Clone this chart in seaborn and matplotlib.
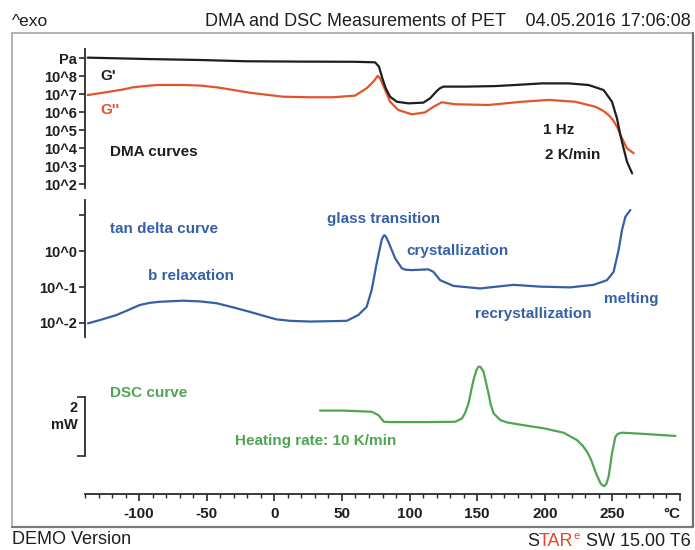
import numpy as np
import pandas as pd
import matplotlib
matplotlib.use("Agg")
import matplotlib.pyplot as plt
from matplotlib.lines import Line2D
from matplotlib.patches import Rectangle
import seaborn as sns

# ---------------------------------------------------------------- data
# Storage modulus G' (log10 Pa) versus temperature (°C)
g_store_T = [-138.0, -92.1, -55.1, -21.8, 18.9, 59.6, 74.5, 77.4, 79.9, 82.4,
             85.6, 90.6, 99.1, 110.2, 115.2, 120.2, 122.5, 125.1, 141.1, 163.3,
             178.1, 197.9, 217.6, 232.4, 243.5, 249.7, 253.4, 255.9, 258.3, 260.8,
             264.6]
g_store_exp = [9.02, 8.94, 8.89, 8.82, 8.80, 8.79, 8.76, 8.52, 7.87, 7.32,
               6.85, 6.57, 6.48, 6.52, 6.76, 7.17, 7.32, 7.41, 7.41, 7.44,
               7.50, 7.59, 7.59, 7.50, 7.22, 6.57, 5.65, 4.72, 3.98, 3.24,
               2.59]

# Loss modulus G'' (log10 Pa)
g_loss_T = [-138.0, -121.7, -112.0, -104.7, -96.0, -86.9, -67.7, -55.0, -42.5, -30.0,
            -18.1, 6.4, 25.0, 43.4, 59.7, 68.3, 73.2, 76.5, 78.2, 81.4,
            85.6, 91.7, 101.7, 111.5, 117.7, 123.9, 133.7, 158.4, 183.1, 202.8,
            222.6, 237.4, 243.0, 247.2, 250.5, 253.4, 257.1, 260.8, 265.7]
g_loss_exp = [6.94, 7.13, 7.25, 7.37, 7.44, 7.50, 7.50, 7.47, 7.37, 7.22,
              7.07, 6.85, 6.82, 6.82, 6.91, 7.32, 7.68, 8.01, 7.87, 7.32,
              6.57, 6.11, 5.87, 5.98, 6.29, 6.54, 6.43, 6.39, 6.57, 6.67,
              6.57, 6.29, 6.08, 5.83, 5.55, 5.18, 4.54, 3.98, 3.71]

# Loss factor tan delta (log10)
tan_T = [-137.8, -129.1, -116.8, -108.0, -99.5, -92.0, -84.7, -67.5, -55.0, -42.7,
         -30.0, -18.1, -8.0, 1.7, 12.0, 26.4, 53.5, 62.1, 68.3, 72.0,
         75.7, 79.4, 80.5, 81.4, 82.5, 84.3, 89.3, 94.3, 97.0, 101.7,
         113.9, 117.7, 122.6, 132.5, 152.2, 176.9, 196.7, 218.9, 236.1, 246.0,
         250.9, 254.6, 257.1, 259.6, 263.3]
tan_exp = [-2.01, -1.92, -1.78, -1.64, -1.50, -1.44, -1.41, -1.38, -1.40, -1.45,
           -1.57, -1.69, -1.80, -1.90, -1.94, -1.96, -1.94, -1.78, -1.55, -1.08,
           -0.34, 0.31, 0.40, 0.44, 0.40, 0.26, -0.20, -0.48, -0.52, -0.53,
           -0.51, -0.58, -0.81, -0.97, -1.04, -0.94, -0.99, -1.01, -0.94, -0.81,
           -0.58, 0.03, 0.58, 0.95, 1.14]

# DSC heat flow (mW, exo up)
dsc_T = [33.8, 51.0, 72.0, 76.9, 81.1, 85.6, 112.8, 133.7, 138.7, 141.0,
         143.6, 145.5, 147.3, 149.5, 151.0, 152.5, 154.7, 156.5, 158.4, 160.0,
         162.1, 167.0, 172.0, 179.4, 199.1, 213.9, 223.8, 228.0, 231.2, 234.0,
         236.1, 238.5, 241.2, 242.8, 244.0, 245.5, 247.2, 248.5, 249.7, 252.2,
         254.0, 257.1, 273.1, 296.6]
dsc_mw = [1.54, 1.54, 1.50, 1.39, 1.16, 1.15, 1.15, 1.16, 1.27, 1.45,
          1.78, 2.20, 2.58, 2.92, 3.03, 3.02, 2.86, 2.50, 2.12, 1.75,
          1.45, 1.22, 1.14, 1.08, 0.94, 0.79, 0.54, 0.35, 0.15, -0.10,
          -0.36, -0.65, -0.92, -1.00, -1.02, -0.95, -0.70, -0.30, 0.09, 0.65,
          0.75, 0.79, 0.75, 0.68]

dma_ticks_exp = [2, 3, 4, 5, 6, 7, 8, 9]
dma_tick_labels = ["10^2", "10^3", "10^4", "10^5", "10^6", "10^7", "10^8", "Pa"]
tan_ticks_exp = [1, 0, -1, -2]
tan_tick_labels = ["", "10^0", "10^-1", "10^-2"]
temp_ticks = [-100, -50, 0, 50, 100, 150, 200, 250, 300]
temp_tick_labels = ["-100", "-50", "0", "50", "100", "150", "200", "250", "°C"]

# ---------------------------------------------------------------- style
sns.set_theme(style="white")
plt.rcParams["font.family"] = ["Liberation Sans", "DejaVu Sans"]

BLACK = "#1e1e1e"
ORANGE = "#e4542b"
BLUE = "#3560a8"
GREEN = "#4fa552"
AXIS = "#2a2a2a"

W, H = 695, 550
fig = plt.figure(figsize=(W / 100, H / 100), dpi=100)


def box(left, top, right, bottom):
    return [left / W, 1 - bottom / H, (right - left) / W, (bottom - top) / H]


def fx(px):
    return px / W


def fy(py):
    return 1 - py / H


TMIN, TMAX = -140, 300

ax_dma = fig.add_axes(box(85, 49, 680, 188))
ax_tan = fig.add_axes(box(85, 200, 680, 337))
ax_dsc = fig.add_axes(box(85, 345, 680, 494))

for ax in (ax_dma, ax_tan, ax_dsc):
    ax.set_facecolor("none")
    ax.set_xlim(TMIN, TMAX)
    for s in ("top", "right", "bottom"):
        ax.spines[s].set_visible(False)
    ax.spines["left"].set_color(AXIS)
    ax.spines["left"].set_linewidth(1.3)
    ax.tick_params(axis="y", direction="out", length=4, width=1.2, color=AXIS,
                   labelsize=10.5, pad=1.5, labelcolor=BLACK, left=True)
    ax.tick_params(axis="x", bottom=False, labelbottom=False)

line_kw = dict(linewidth=1.6, estimator=None, sort=False, legend=False)

# DMA moduli
dma_store = pd.DataFrame({"T": g_store_T, "G": np.power(10.0, g_store_exp)})
dma_loss = pd.DataFrame({"T": g_loss_T, "G": np.power(10.0, g_loss_exp)})
ax_dma.set_yscale("log")
sns.lineplot(data=dma_loss, x="T", y="G", ax=ax_dma, color=ORANGE, **line_kw)
sns.lineplot(data=dma_store, x="T", y="G", ax=ax_dma, color=BLACK, **line_kw)
ax_dma.set_ylim(10 ** 1.778, 10 ** 9.5)
ax_dma.set_yticks([10.0 ** e for e in dma_ticks_exp])
ax_dma.set_yticklabels(dma_tick_labels, fontweight="bold")
ax_dma.minorticks_off()

# tan delta
tan_df = pd.DataFrame({"T": tan_T, "tan": np.power(10.0, tan_exp)})
ax_tan.set_yscale("log")
sns.lineplot(data=tan_df, x="T", y="tan", ax=ax_tan, color=BLUE, **line_kw)
ax_tan.set_ylim(10 ** -2.389, 10 ** 1.417)
ax_tan.set_yticks([10.0 ** e for e in tan_ticks_exp])
ax_tan.set_yticklabels(tan_tick_labels, fontweight="bold")
ax_tan.minorticks_off()

# DSC heat flow with a 2 mW scale bracket and the temperature axis
dsc_df = pd.DataFrame({"T": dsc_T, "mW": dsc_mw})
sns.lineplot(data=dsc_df, x="T", y="mW", ax=ax_dsc, color=GREEN, **line_kw)
ax_dsc.set_ylim(-1.288, 3.763)
ax_dsc.spines["left"].set_bounds(0, 2)
ax_dsc.set_yticks([0, 2])
ax_dsc.set_yticklabels(["", ""])
ax_dsc.tick_params(axis="y", length=6)
ax_dsc.text(-0.013, 1.35, "2\nmW", transform=ax_dsc.get_yaxis_transform(),
            ha="right", va="center", multialignment="right", fontsize=10.5,
            fontweight="bold", color=BLACK, linespacing=1.3)

ax_dsc.spines["bottom"].set_visible(True)
ax_dsc.spines["bottom"].set_color(AXIS)
ax_dsc.spines["bottom"].set_linewidth(1.3)
ax_dsc.set_xticks(temp_ticks)
ax_dsc.set_xticklabels(temp_tick_labels, fontweight="bold")
ax_dsc.set_xticks(np.arange(TMIN, TMAX + 1, 10), minor=True)
ax_dsc.tick_params(axis="x", which="major", bottom=True, labelbottom=True,
                   direction="out", length=5, width=1.2, color=AXIS,
                   labelsize=11, pad=4, labelcolor=BLACK)
ax_dsc.tick_params(axis="x", which="minor", bottom=True, direction="out",
                   length=3, width=1.0, color=AXIS)
ax_dsc.get_xticklabels()[-1].set_horizontalalignment("right")

for ax in (ax_dma, ax_tan, ax_dsc):
    ax.set_xlabel("")
    ax.set_ylabel("")


# ---------------------------------------------------------------- annotations
def label(px, py, s, color, size=11, weight="bold", ha="left"):
    fig.text(fx(px), fy(py), s, color=color, fontsize=size, fontweight=weight,
             ha=ha, va="center")


label(100, 76, "G'", BLACK)
label(100, 110, "G''", ORANGE)
label(110, 152, "DMA curves", BLACK)
label(543, 130, "1 Hz", BLACK)
label(545, 155, "2 K/min", BLACK)
label(110, 229, "tan delta curve", BLUE)
label(148, 276, "b relaxation", BLUE)
label(327, 219, "glass transition", BLUE)
label(406, 251, "crystallization", BLUE)
label(475, 314, "recrystallization", BLUE)
label(604, 299, "melting", BLUE)
label(110, 393, "DSC curve", GREEN)
label(235, 441, "Heating rate: 10 K/min", GREEN)

# header and footer
fig.text(fx(12), fy(21), "^exo", fontsize=12.5, color=BLACK, ha="left", va="center")
fig.text(fx(691), fy(21), "DMA and DSC Measurements of PET    04.05.2016 17:06:08",
         fontsize=13, color=BLACK, ha="right", va="center")
fig.text(fx(12), fy(540), "DEMO Version", fontsize=13, color=BLACK,
         ha="left", va="center")

renderer = fig.canvas.get_renderer()
RED = "#e8452a"
y_foot = fy(541)
t_rest = fig.text(fx(691), y_foot, "SW 15.00 T6", fontsize=13, color=BLACK,
                  ha="right", va="center")
x_right = t_rest.get_window_extent(renderer).x0 - 6
t_e = fig.text(x_right / W, y_foot + 5 / H, "e", fontsize=8, color=RED,
               ha="right", va="center")
x_right = t_e.get_window_extent(renderer).x0 - 0.5
t_tar = fig.text(x_right / W, y_foot, "TAR", fontsize=13, color=RED,
                 ha="right", va="center")
x_right = t_tar.get_window_extent(renderer).x0
fig.text(x_right / W, y_foot, "S", fontsize=13, color=BLACK, ha="right", va="center")

# outer frame
fig.add_artist(Rectangle((fx(12), fy(527)), (693 - 12) / W, (527 - 33) / H,
                         transform=fig.transFigure, fill=False,
                         edgecolor="#a5a5a5", linewidth=1.2))
fig.add_artist(Line2D([fx(693), fx(693)], [fy(33), fy(527)],
                      transform=fig.transFigure, color="#6f6f6f", linewidth=1.6))
fig.add_artist(Line2D([fx(12), fx(693)], [fy(527), fy(527)],
                      transform=fig.transFigure, color="#7a7a7a", linewidth=1.6))

fig.savefig("out.png", dpi=100, facecolor="white")
